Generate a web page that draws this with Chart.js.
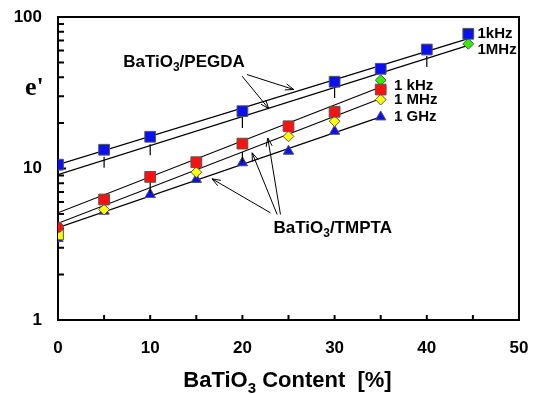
<!DOCTYPE html>
<html>
<head>
<meta charset="utf-8">
<script src="https://cdn.jsdelivr.net/npm/chart.js@4.4.0/dist/chart.umd.min.js"></script>
<style>
  html, body { margin: 0; padding: 0; background: #fff; }
  #wrap { width: 535px; height: 394px; }
</style>
</head>
<body>
<div id="wrap"><canvas id="chart"></canvas></div>
<script>
// values (x = BaTiO3 content %, y = e')
const pegX = [0, 5, 10, 20, 30, 35, 40, 44.5];
const peg1kHz = [10.6, 13.3, 16.2, 23.9, 37.4, 45.5, 61, 77.5];
const peg1MHzX = [5, 10, 20, 30, 35, 40, 44.5];
const peg1MHz = [11.0, 13.3, 20.1, 31.8, 38.3, 50.9, 66.5];

const tmX = [0, 5, 10, 15, 20, 25, 30, 35];
const tm1kHz = [4.1, 6.24, 8.8, 11.0, 14.6, 19.0, 23.7, 33.2];
const tm1MHz = [3.67, 5.36, 7.5, 9.45, 11.8, 16.3, 20.5, 28.5];
const tm1GHz = [3.45, 5.23, 6.74, 8.46, 10.9, 13.0, 17.6, 21.9];

// fitted straight lines (end values)
const pegFitX = [0, 44.5];
const pegFit1kHz = [10.6, 72];
const pegFit1MHz = [9.1, 65];
const tmFitX = [0, 35];
const tmFit1kHz = [5.1, 34.5];
const tmFit1MHz = [4.35, 29];
const tmFit1GHz = [4.07, 21.9];

const xTicks = [0, 10, 20, 30, 40, 50];
const yTicks = [1, 10, 100];

// marker kinds per point ('bar' = small vertical stroke)
const tm1kHzMarks = ['circle', 'rect', 'rect', 'rect', 'rect', 'rect', 'rect', 'rect'];
const tm1MHzMarks = ['rect', 'rectRot', 'bar', 'rectRot', 'bar', 'rectRot', 'rectRot', 'rectRot'];
const tm1GHzMarks = tmX.map(() => 'triangle');
const peg1kHzMarks = pegX.map(() => 'rect');
const peg1MHzMarks = ['bar', 'bar', 'bar', 'bar', 'rectRot', 'bar', 'rectRot'];

const FONT = "'Liberation Sans', Arial, sans-serif";

const radiusOf = { circle: 5.2, rect: 7.6, rectRot: 5.4, triangle: 6, bar: 5.5 };

function pts(xs, ys) {
    return xs.map((x, i) => ({ x: x, y: ys[i] }));
}

function markSet(xs, ys, kinds, fill) {
    return {
        data: pts(xs, ys),
        showLine: false,
        pointStyle: kinds.map(k => k === 'bar' ? 'line' : k),
        pointRotation: kinds.map(k => k === 'bar' ? 90 : 0),
        pointRadius: kinds.map(k => radiusOf[k]),
        pointHoverRadius: kinds.map(k => radiusOf[k]),
        pointBackgroundColor: fill,
        pointBorderColor: kinds.map(k => k === 'bar' ? '#000' : '#555'),
        pointBorderWidth: kinds.map(k => k === 'bar' ? 1.2 : 1)
    };
}

function fitSet(xs, ys) {
    return {
        data: pts(xs, ys),
        showLine: true,
        borderColor: '#000',
        borderWidth: 1.2,
        pointRadius: 0,
        pointHoverRadius: 0,
        fill: false
    };
}

// annotation text and arrows, in data units
const notes = [
    { parts: [['BaTiO', 0], ['3', 1], ['/PEGDA', 0]], x: 7.07, y: 47.1, size: 17 },
    { parts: [['BaTiO', 0], ['3', 1], ['/TMPTA', 0]], x: 23.37, y: 3.78, size: 17 },
    { parts: [['1kHz', 0]], x: 45.5, y: 73.2, size: 15 },
    { parts: [['1MHz', 0]], x: 45.5, y: 56.6, size: 15 },
    { parts: [['1 kHz', 0]], x: 36.45, y: 33.2, size: 15 },
    { parts: [['1 MHz', 0]], x: 36.45, y: 26.5, size: 15 },
    { parts: [['1 GHz', 0]], x: 36.45, y: 20.5, size: 15 }
];
const arrows = [
    [20.5, 41.7, 25.58, 33.2],
    [19.97, 40.7, 22.86, 24.8],
    [23.04, 5.1, 16.7, 8.55],
    [23.77, 4.97, 21.05, 12.7],
    [24.13, 4.97, 22.75, 15.9]
];

function drawRich(ctx, parts, x, y, size, align) {
    let w = 0;
    parts.forEach(p => {
        ctx.font = 'bold ' + (p[1] ? Math.round(size * 0.68) : size) + 'px ' + FONT;
        w += ctx.measureText(p[0]).width;
    });
    let cx = align === 'center' ? x - w / 2 : x;
    ctx.textAlign = 'left';
    ctx.textBaseline = 'alphabetic';
    parts.forEach(p => {
        ctx.font = 'bold ' + (p[1] ? Math.round(size * 0.68) : size) + 'px ' + FONT;
        ctx.fillText(p[0], cx, p[1] ? y + size * 0.28 : y);
        cx += ctx.measureText(p[0]).width;
    });
}

const frame = {
    id: 'frame',
    beforeDatasetsDraw(chart) {
        const ctx = chart.ctx;
        const a = chart.chartArea;
        const xs = chart.scales.x, ys = chart.scales.y;
        ctx.save();
        ctx.strokeStyle = '#000';
        ctx.lineWidth = 2;
        ctx.beginPath();
        ctx.moveTo(a.left, a.top);
        ctx.lineTo(a.right, a.top);
        ctx.lineTo(a.right, a.bottom);
        ctx.stroke();
        // inward ticks
        ctx.beginPath();
        for (let v = 5; v < 50; v += 5) {
            const px = xs.getPixelForValue(v);
            ctx.moveTo(px, a.bottom);
            ctx.lineTo(px, a.bottom - 5);
        }
        for (let d = 1; d < 100; d *= 10) {
            for (let k = 1; k <= 9; k++) {
                if (k === 1 && d === 1) continue;
                const py = ys.getPixelForValue(k * d);
                ctx.moveTo(a.left, py);
                ctx.lineTo(a.left + (k === 1 ? 8 : 6), py);
            }
        }
        ctx.stroke();
        ctx.restore();
    },
    afterDatasetsDraw(chart) {
        const ctx = chart.ctx;
        const a = chart.chartArea;
        const xs = chart.scales.x, ys = chart.scales.y;
        ctx.save();
        ctx.fillStyle = '#000';
        ctx.strokeStyle = '#000';
        notes.forEach(n => {
            drawRich(ctx, n.parts, xs.getPixelForValue(n.x), ys.getPixelForValue(n.y), n.size, 'left');
        });
        ctx.lineWidth = 1;
        arrows.forEach(ar => {
            const x1 = xs.getPixelForValue(ar[0]), y1 = ys.getPixelForValue(ar[1]);
            const x2 = xs.getPixelForValue(ar[2]), y2 = ys.getPixelForValue(ar[3]);
            const ang = Math.atan2(y2 - y1, x2 - x1);
            ctx.beginPath();
            ctx.moveTo(x1, y1);
            ctx.lineTo(x2, y2);
            ctx.moveTo(x2 - 9 * Math.cos(ang - 0.35), y2 - 9 * Math.sin(ang - 0.35));
            ctx.lineTo(x2, y2);
            ctx.lineTo(x2 - 9 * Math.cos(ang + 0.35), y2 - 9 * Math.sin(ang + 0.35));
            ctx.stroke();
        });
        // axis titles
        drawRich(ctx, [['BaTiO', 0], ['3', 1], [' Content  [%]', 0]], (a.left + a.right) / 2 - 1, 387, 22, 'center');
        ctx.font = "bold 26px 'Liberation Serif', 'Times New Roman', serif";
        ctx.textAlign = 'left';
        ctx.fillText("e'", 25, 95);
        ctx.restore();
    }
};

document.addEventListener("DOMContentLoaded", () => {
    const ctx = document.getElementById('chart').getContext('2d');
    new Chart(ctx, {
        type: 'scatter',
        data: {
            datasets: [
                markSet(tmX, tm1kHz, tm1kHzMarks, '#ff1010'),
                markSet(tmX, tm1MHz, tm1MHzMarks, '#ffff00'),
                markSet(tmX, tm1GHz, tm1GHzMarks, '#0a10f0'),
                markSet(pegX, peg1kHz, peg1kHzMarks, '#0a10f0'),
                markSet(peg1MHzX, peg1MHz, peg1MHzMarks, '#33ee00'),
                fitSet(pegFitX, pegFit1kHz),
                fitSet(pegFitX, pegFit1MHz),
                fitSet(tmFitX, tmFit1kHz),
                fitSet(tmFitX, tmFit1MHz),
                fitSet(tmFitX, tmFit1GHz)
            ]
        },
        options: {
            responsive: true,
            maintainAspectRatio: false,
            animation: false,
            events: [],
            layout: { padding: { top: 17, right: 16, left: 0, bottom: 0 } },
            plugins: {
                legend: { display: false },
                tooltip: { enabled: false }
            },
            scales: {
                x: {
                    type: 'linear',
                    min: 0,
                    max: 50,
                    afterFit: s => {
                        s.height = 74;
                        s.paddingLeft = 0;
                        s.paddingRight = 0;
                    },
                    afterBuildTicks: s => { s.ticks = xTicks.map(v => ({ value: v })); },
                    grid: { display: false, drawTicks: false },
                    border: { display: true, color: '#000', width: 2 },
                    ticks: {
                        color: '#000',
                        font: { family: FONT, size: 17, weight: 'bold' },
                        padding: 18,
                        maxRotation: 0,
                        autoSkip: false
                    }
                },
                y: {
                    type: 'logarithmic',
                    min: 1,
                    max: 100,
                    afterFit: s => {
                        s.width = 58;
                        s.paddingTop = 0;
                        s.paddingBottom = 0;
                    },
                    afterBuildTicks: s => { s.ticks = yTicks.map(v => ({ value: v })); },
                    grid: { display: false, drawTicks: false },
                    border: { display: true, color: '#000', width: 2 },
                    ticks: {
                        color: '#000',
                        font: { family: FONT, size: 17, weight: 'bold' },
                        padding: 16,
                        autoSkip: false,
                        callback: v => String(v)
                    }
                }
            }
        },
        plugins: [frame]
    });
});
</script>
</body>
</html>
